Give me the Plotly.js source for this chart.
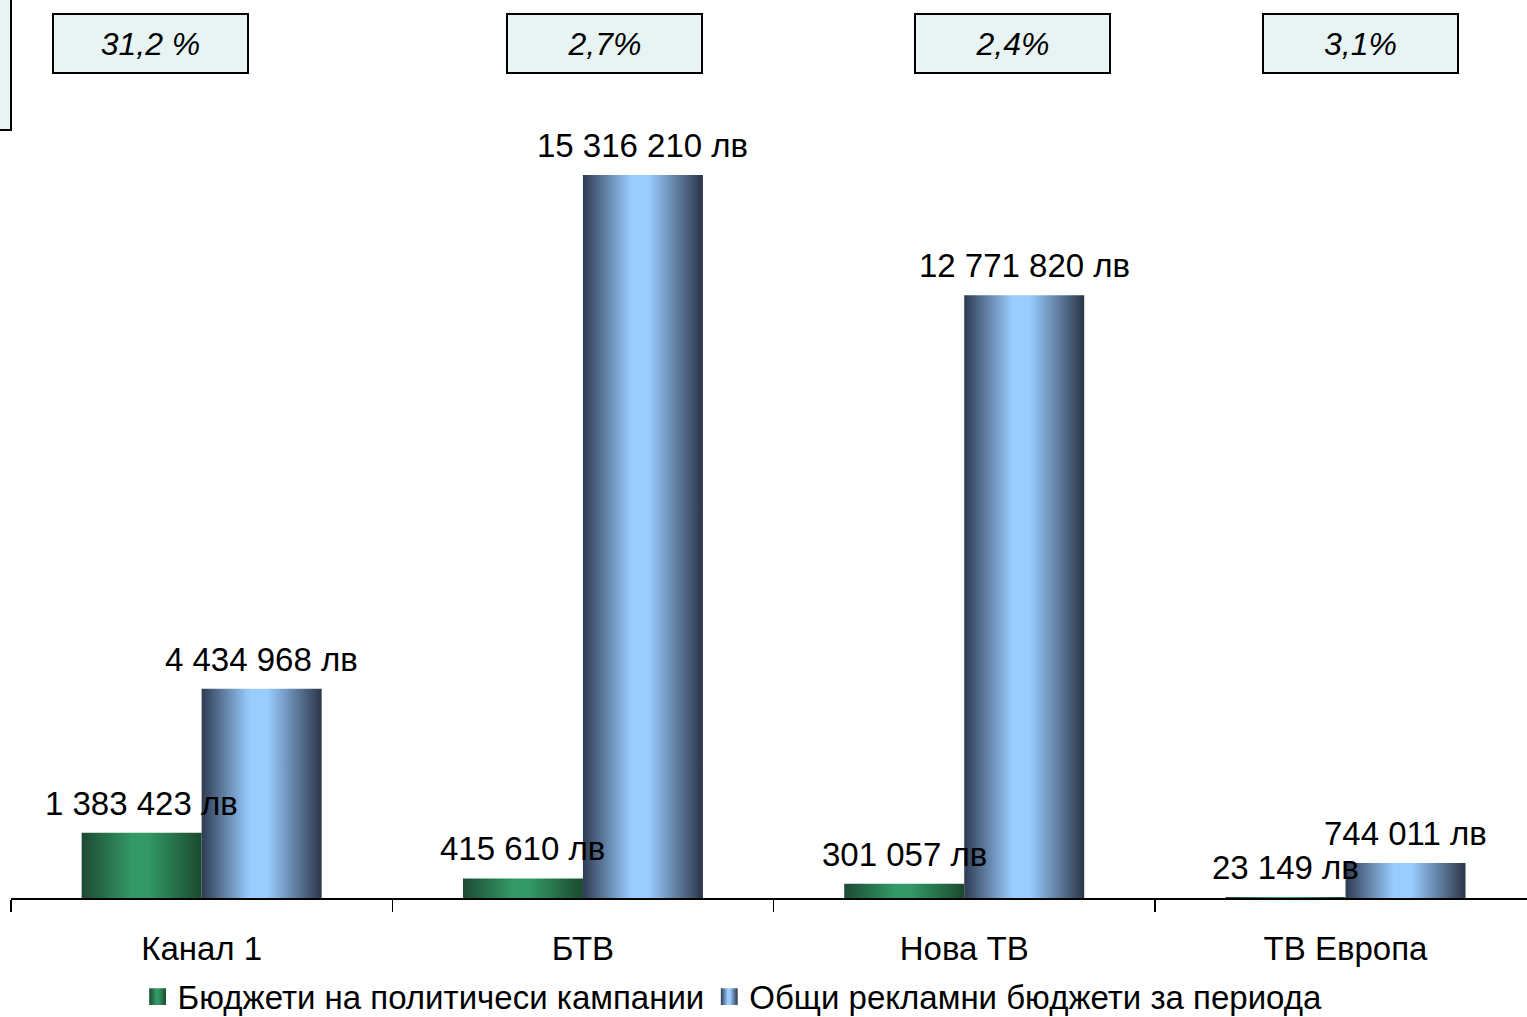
<!DOCTYPE html>
<html>
<head>
<meta charset="utf-8">
<script src="https://cdn.plot.ly/plotly-3.0.1.min.js"></script>
<style>
html,body{margin:0;padding:0;overflow:hidden;background:#fff;}
#chart{width:1527px;height:1017px;}
</style>
</head>
<body>
<div id="chart"></div>
<script>
// ---- data ----
const categories = ["Канал 1", "БТВ", "Нова ТВ", "ТВ Европа"];
const politicalBudgets = [1383423, 415610, 301057, 23149];
const totalBudgets = [4434968, 15316210, 12771820, 744011];
const seriesNames = ["Бюджети на политичеси кампании", "Общи рекламни бюджети за периода"];
const shareLabels = ["31,2 %", "2,7%", "2,4%", "3,1%"];

function fmt(v) {
  return String(v).replace(/\B(?=(\d{3})+(?!\d))/g, " ") + " лв";
}

const FONT = "Arial, 'Liberation Sans', sans-serif";
const FS = 33;
const bargap = 0.3706;
const half = (1 - bargap) / 4;

const traces = [
  {
    type: "bar", name: seriesNames[0], x: categories, y: politicalBudgets,
    marker: {color: "#2e8b5c", line: {width: 0}}, hoverinfo: "none"
  },
  {
    type: "bar", name: seriesNames[1], x: categories, y: totalBudgets,
    marker: {color: "#7fb0e0", line: {width: 0}}, hoverinfo: "none"
  }
];

const annotations = [];
categories.forEach((c, i) => {
  annotations.push({
    x: i - half, y: politicalBudgets[i], xref: "x", yref: "y",
    text: fmt(politicalBudgets[i]), showarrow: false, yanchor: "bottom", yshift: 9,
    font: {family: FONT, size: FS, color: "#000"}
  });
  annotations.push({
    x: i + half, y: totalBudgets[i], xref: "x", yref: "y",
    text: fmt(totalBudgets[i]), showarrow: false, yanchor: "bottom", yshift: 9,
    font: {family: FONT, size: FS, color: "#000"}
  });
});
const boxX = [0.0923, 0.3915, 0.6606, 0.8902];
shareLabels.forEach((s, i) => {
  annotations.push({
    x: boxX[i], y: 1.0714, xref: "paper", yref: "paper",
    text: "<i>" + s + "</i>", showarrow: false, xanchor: "center", yanchor: "middle",
    width: 193, height: 57, borderpad: 0, borderwidth: 2, bordercolor: "#000",
    bgcolor: "#e8f4f4", font: {family: FONT, size: 32, color: "#000"}
  });
});

const layout = {
  width: 1527, height: 1017,
  margin: {l: 11, r: 0, t: 100, b: 119, pad: 0},
  paper_bgcolor: "#fff", plot_bgcolor: "#fff",
  barmode: "group", bargap: bargap, bargroupgap: 0,
  font: {family: FONT, size: FS, color: "#000"},
  xaxis: {
    type: "category", range: [-0.5, 3.476], showgrid: false, zeroline: false,
    showline: true, linecolor: "#000", linewidth: 2,
    ticks: "outside", tickson: "boundaries", ticklen: 12, tickwidth: 1.5, tickcolor: "#000",
    tickfont: {family: FONT, size: FS, color: "#000"}, ticklabelstandoff: 20
  },
  yaxis: {range: [0, 16906780], visible: false, showgrid: false, zeroline: false},
  showlegend: true,
  legend: {
    orientation: "h", x: 0.476, xanchor: "center", y: 0.02, yanchor: "middle",
    yref: "container", font: {family: FONT, size: FS, color: "#000"},
    bgcolor: "rgba(0,0,0,0)", itemwidth: 30
  },
  shapes: [{
    type: "rect", xref: "paper", yref: "paper", x0: -0.05, x1: 0, y0: 0.9624, y1: 1.2,
    line: {color: "#000", width: 2}, fillcolor: "#e8f4f4", layer: "above"
  }],
  annotations: annotations
};

function addGradient(defs, id, stops) {
  const ns = "http://www.w3.org/2000/svg";
  const g = document.createElementNS(ns, "linearGradient");
  g.setAttribute("id", id);
  g.setAttribute("x1", "0"); g.setAttribute("y1", "0");
  g.setAttribute("x2", "1"); g.setAttribute("y2", "0");
  stops.forEach(s => {
    const st = document.createElementNS(ns, "stop");
    st.setAttribute("offset", s[0]);
    st.setAttribute("stop-color", s[1]);
    g.appendChild(st);
  });
  defs.appendChild(g);
}

Plotly.newPlot("chart", traces, layout, {staticPlot: true}).then(gd => {
  const svg = gd.querySelector("svg.main-svg");
  let defs = svg.querySelector("defs");
  if (!defs) { defs = document.createElementNS("http://www.w3.org/2000/svg", "defs"); svg.insertBefore(defs, svg.firstChild); }
  addGradient(defs, "gradGreen", [[0, "#1c4a33"], [0.42, "#339966"], [0.55, "#339966"], [1, "#1a4a2e"]]);
  addGradient(defs, "gradBlue", [[0, "#2e3b52"], [0.4, "#99ccff"], [0.55, "#99ccff"], [1, "#2b3548"]]);
  const ids = ["gradGreen", "gradBlue"];
  gd.querySelectorAll(".barlayer .trace.bars").forEach((t, i) => {
    t.querySelectorAll(".point path").forEach(p => { p.style.fill = "url(#" + ids[i] + ")"; });
  });
  gd.querySelectorAll(".legend .traces").forEach((t, i) => {
    t.querySelectorAll(".legendpoints path").forEach(p => {
      p.style.fill = "url(#" + ids[i] + ")";
      p.style.stroke = "none";
      const tr = p.getAttribute("transform") || "";
      p.setAttribute("transform", tr + " scale(1.4)");
    });
  });
});
</script>
</body>
</html>
